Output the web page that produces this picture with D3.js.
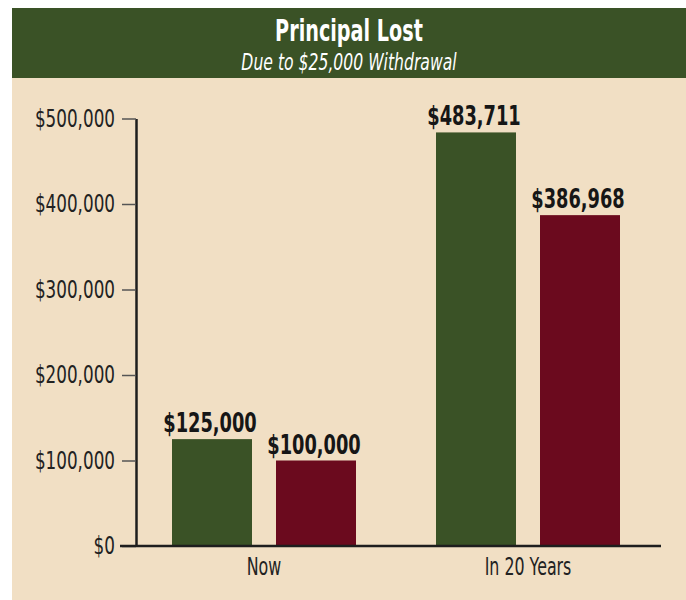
<!DOCTYPE html>
<html>
<head>
<meta charset="utf-8">
<script src="https://cdn.jsdelivr.net/npm/d3@7"></script>
<style>
  body { margin: 0; background: #fff; }
  svg text { font-family: "DejaVu Sans", sans-serif; }
</style>
</head>
<body>
<svg></svg>
<script>
//data
const categories = ["Now", "In 20 Years"];
const series = ["withdrawal", "lost"];
const withdrawalValues = [125000, 483711];
const lostValues = [100000, 386968];
const yTicks = [0, 100000, 200000, 300000, 400000, 500000];
const title = "Principal Lost";
const subtitle = "Due to $25,000 Withdrawal";

//constants
const W = 686, H = 600;
const colors = {withdrawal: "#3a5226", lost: "#6b0a1e"};

const rows = categories.map((c, i) => ({
    cat: c,
    values: [
        {key: "withdrawal", value: withdrawalValues[i]},
        {key: "lost", value: lostValues[i]}
    ]
}));

// no condensed font installed, so squeeze the text sideways
function condense(sel, sx) {
    sel.each(function() {
        let t = d3.select(this);
        let x = +t.attr("x") || 0;
        let y = +t.attr("y") || 0;
        t.attr("x", 0).attr("y", 0)
            .attr("transform", "translate(" + x + "," + y + ") scale(" + sx + ",1)");
    });
}

function main() {
    let svg = d3.select("svg")
        .attr("width", W)
        .attr("height", H);

    //panel + header
    svg.append("rect")
        .attr("x", 12).attr("y", 8)
        .attr("width", W - 12).attr("height", H - 8)
        .attr("fill", "#f1dfc4");

    svg.append("rect")
        .attr("x", 12).attr("y", 8)
        .attr("width", W - 12).attr("height", 70)
        .attr("fill", "#3a5226");

    svg.append("text")
        .attr("x", 349)
        .attr("y", 41)
        .attr("text-anchor", "middle")
        .attr("fill", "#fff")
        .style("font-size", "31px")
        .style("font-weight", "bold")
        .text(title)
        .call(condense, 0.62);

    svg.append("text")
        .attr("x", 349)
        .attr("y", 70)
        .attr("text-anchor", "middle")
        .attr("fill", "#fff")
        .style("font-size", "23px")
        .style("font-style", "italic")
        .text(subtitle)
        .call(condense, 0.68);

    //scales
    let x0 = d3.scaleBand()
        .domain(categories)
        .range([132, 660])
        .paddingInner(80 / 264)
        .paddingOuter(40 / 264);

    let x1 = d3.scaleBand()
        .domain(series)
        .range([0, x0.bandwidth()])
        .paddingInner(24 / 104);

    let y = d3.scaleLinear()
        .domain([0, 500000])
        .range([546, 118.5]);

    const axisX = 136;

    //y axis
    let yAxis = d3.axisLeft(y)
        .tickValues(yTicks)
        .tickFormat(d => "$" + d3.format(",")(d))
        .tickSize(14)
        .tickSizeOuter(0)
        .tickPadding(7);

    let gy = svg.append("g")
        .attr("transform", "translate(" + axisX + ",0)")
        .call(yAxis);
    gy.select(".domain").attr("stroke", "#1e1e1e").attr("stroke-width", 2.5);
    gy.selectAll(".tick line").attr("stroke", "#555").attr("stroke-width", 1.5);
    gy.selectAll(".tick text")
        .attr("fill", "#222")
        .style("font-size", "24px")
        .call(condense, 0.7);

    //bars
    let groups = svg.selectAll(".group")
        .data(rows)
        .join("g")
        .attr("transform", d => "translate(" + x0(d.cat) + ",0)");

    groups.selectAll("rect")
        .data(d => d.values)
        .join("rect")
        .attr("x", d => x1(d.key))
        .attr("y", d => y(d.value))
        .attr("width", x1.bandwidth())
        .attr("height", d => y(0) - y(d.value))
        .attr("fill", d => colors[d.key]);

    groups.selectAll("text")
        .data(d => d.values)
        .join("text")
        .attr("x", d => x1(d.key) + x1.bandwidth() / 2 - 2)
        .attr("y", d => y(d.value) - 7)
        .attr("text-anchor", "middle")
        .attr("fill", "#161616")
        .style("font-size", "27px")
        .style("font-weight", "bold")
        .text(d => "$" + d3.format(",")(d.value))
        .call(condense, 0.66);

    //x axis
    let xAxis = d3.axisBottom(x0)
        .tickSize(0)
        .tickPadding(12);

    let gx = svg.append("g")
        .attr("transform", "translate(0," + y(0) + ")")
        .call(xAxis);
    gx.select(".domain").remove();
    gx.selectAll(".tick text")
        .attr("fill", "#222")
        .style("font-size", "24px")
        .call(condense, 0.66);

    svg.append("line")
        .attr("x1", axisX - 16)
        .attr("x2", x0.range()[1] + 1)
        .attr("y1", y(0))
        .attr("y2", y(0))
        .attr("stroke", "#1e1e1e")
        .attr("stroke-width", 2.5);
}

main();
</script>
</body>
</html>
